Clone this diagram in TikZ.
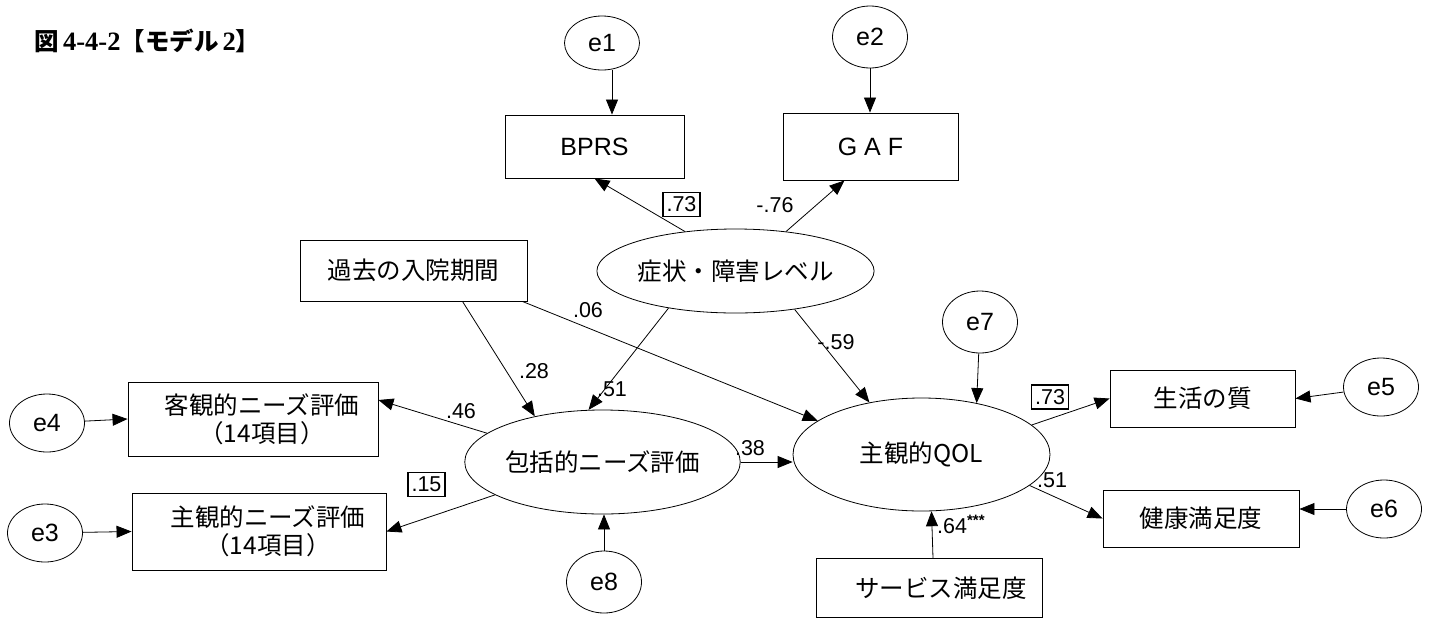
\documentclass[tikz,border=0pt]{standalone}
\usepackage{fontspec}
\setmainfont{Noto Sans CJK JP}
\newfontfamily\lat{Liberation Sans}
\newfontfamily\ser{Liberation Serif}
\usetikzlibrary{shapes.geometric,arrows.meta}
\begin{document}
\begin{tikzpicture}[x=1pt,y=-1pt,
  box/.style={draw, line width=0.9pt, rectangle, inner sep=0pt, align=center, font=\fontsize{24.5}{28}\selectfont},
  lat/.style={draw, line width=0.8pt, ellipse, inner sep=0pt, font=\fontsize{24.5}{28}\selectfont},
  err/.style={draw, line width=0.8pt, ellipse, inner sep=0pt, minimum width=75pt, minimum height=58pt, font=\lat\fontsize{25}{30}\selectfont},
  arr/.style={-{Triangle[length=15pt,width=12pt]}, line width=0.8pt},
  coef/.style={inner sep=1pt, font=\lat\fontsize{21.5}{24}\selectfont},
  bcoef/.style={coef, draw, line width=1.1pt, minimum width=37pt, minimum height=24pt}
]
\useasboundingbox (0,0) rectangle (1432,622);

\node[anchor=base west, font=\bfseries\fontsize{24.5}{27}\selectfont] (title) at (31,50)
  {図\,{\ser\bfseries\fontsize{26.5}{27}\selectfont 4-4-2}【モデル\,{\ser\bfseries\fontsize{26.5}{27}\selectfont 2}】};

\node[err, minimum height=54pt] (e1) at (602,43) {e1};
\node[err, minimum height=62pt] (e2) at (870,37) {e2};
\node[box, minimum width=179pt, minimum height=63pt, font=\lat\fontsize{25}{28}\selectfont] (bprs) at (594.5,146.5) {BPRS};
\node[box, minimum width=175pt, minimum height=67pt, font=\lat\fontsize{25}{28}\selectfont] (gaf) at (870.5,146.5) {G A F};
\node[lat, minimum width=259pt, minimum height=84pt] (sym) at (735.5,271) {症状・障害レベル};
\node[box, minimum width=227pt, minimum height=61pt] (kako) at (413.5,270.5) {過去の入院期間};
\node[err, minimum height=62pt] (e7) at (980,322) {e7};
\node[box, minimum width=185pt, minimum height=57pt] (sei) at (1202.5,398.5) {生活の質};
\node[err] (e5) at (1381,387) {e5};
\node[box, minimum width=250pt, minimum height=74pt] (kyak) at (253,419) {\hspace*{18pt}客観的ニーズ評価\\\hspace*{18pt}（14項目）};
\node[err] (e4) at (47,423) {e4};
\node[lat, minimum width=261pt, minimum height=104pt] (hok) at (602.5,462) {包括的ニーズ評価};
\node[lat, minimum width=257pt, minimum height=113pt] (qol) at (921.5,454.5) {主観的QOL};
\node[box, minimum width=196pt, minimum height=57pt] (ken) at (1201,518.5) {健康満足度};
\node[err] (e6) at (1384,509) {e6};
\node[box, minimum width=254pt, minimum height=77pt] (snd) at (259,531.5) {\hspace*{18pt}主観的ニーズ評価\\\hspace*{18pt}（14項目）};
\node[err] (e3) at (45,533) {e3};
\node[err, minimum height=62pt] (e8) at (604,582) {e8};
\node[box, minimum width=226pt, minimum height=59pt] (svc) at (929,588) {\hspace*{24pt}サービス満足度};

\draw[arr] ([xshift=10pt]e1.south) -- ([xshift=10pt]e1.south |- bprs.north);
\draw[arr] (e2) -- (e2 |- gaf.north);
\draw[arr] (sym.142) -- (bprs.south);
\draw[arr] (sym.38) -- ([xshift=-26pt]gaf.south);
\draw[arr] (sym.209) -- (hok.105);
\draw[arr] (sym.327) -- (qol.135);
\draw[arr] ([xshift=49pt]kako.south) -- (hok.146);
\draw[arr] ([xshift=-5pt]kako.south east) -- (qol.162);
\draw[arr] (hok.166) -- ([yshift=19pt]kyak.east);
\draw[arr] (hok.197) -- (snd.east);
\draw[arr] (e8) -- (e8 |- hok.south);
\draw[arr] (hok.east) -- (hok.east -| qol.west);
\draw[arr] (e7) -- (qol.43);
\draw[arr] ([xshift=4pt]svc.north) -- (qol.280);
\draw[arr] (qol.15) -- (sei.west);
\draw[arr] (qol.344) -- (ken.west);
\draw[arr] (e5) -- (sei.east);
\draw[arr] (e4) -- (kyak.west);
\draw[arr] (e3) -- (snd.west);
\draw[arr] (e6) -- (e6 -| ken.east);

\node[bcoef] (l1) at (681.5,204.5) {.73};
\node[coef] (l2) at (775,205) {-.76};
\node[coef] (l3) at (588,310) {.06};
\node[coef] (l4) at (534,371) {.28};
\node[coef] (l5) at (612,389) {.51};
\node[coef] (l6) at (836,342) {-.59};
\node[coef] (l7) at (461,411) {.46};
\node[bcoef] (l8) at (426.5,484.5) {.15};
\node[coef] (l9) at (750,448) {.38};
\node[bcoef] (l10) at (1050,397) {.73};
\node[coef] (l11) at (1052,480) {.51};
\node[coef, anchor=base west] (l12) at (936,533) {.64\textsuperscript{\bfseries ***}};
\end{tikzpicture}
\end{document}
